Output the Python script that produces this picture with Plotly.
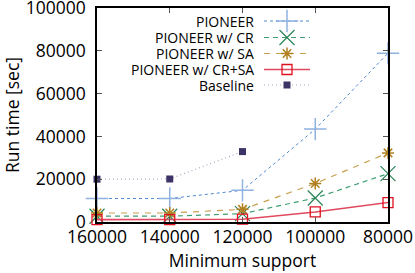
import plotly.graph_objects as go

# ---- data ----
min_support = [160000, 140000, 120000, 100000, 80000]
pioneer = [11000, 11000, 14800, 43400, 78900]
pioneer_cr = [2700, 2700, 3900, 11200, 22600]
pioneer_sa = [4200, 4200, 5900, 18000, 32300]
pioneer_crsa = [1100, 1100, 1300, 4700, 9100]
baseline_support = [160000, 140000, 120000]
baseline = [20000, 20100, 32900]

series_names = ["PIONEER", "PIONEER w/ CR", "PIONEER w/ SA", "PIONEER w/ CR+SA", "Baseline"]
x_ticks = [160000, 140000, 120000, 100000, 80000]
y_ticks = [0, 20000, 40000, 60000, 80000, 100000]

FONT = "Open Sans"
W, H = 415, 273
ML, MR, MT, MB = 97, 27, 8, 51

styles = [
    dict(line=dict(color="#4f88d2", width=1, dash="3px,3px"),
         marker=dict(symbol="cross-thin", size=16, line=dict(color="#8fb2df", width=1.5))),
    dict(line=dict(color="#3f9c70", width=1.2, dash="5px,4px"),
         marker=dict(symbol="x-thin", size=15, line=dict(color="#2a8558", width=1.2))),
    dict(line=dict(color="#c7a050", width=1.2, dash="6px,6px"),
         marker=dict(symbol="asterisk", size=10, line=dict(color="#b08020", width=1.5))),
    dict(line=dict(color="#e04a5e", width=1.6),
         marker=dict(symbol="square-open", size=10, color="#e01020", line=dict(width=1.3))),
    dict(line=dict(color="#a8a6c4", width=1.2, dash="1px,3px"),
         marker=dict(symbol="square", size=7, color="#3d3367", line=dict(width=0))),
]
data_x = [min_support] * 4 + [baseline_support]
data_y = [pioneer, pioneer_cr, pioneer_sa, pioneer_crsa, baseline]

fig = go.Figure()
for name, xs, ys, st in zip(series_names, data_x, data_y, styles):
    fig.add_trace(go.Scatter(x=xs, y=ys, mode="lines+markers", name=name,
                             line=st["line"], marker=st["marker"], showlegend=False,
                             cliponaxis=False))

# ---- custom legend (text right-aligned, sample on the right), in pixel-like overlay axes ----
pw = W - ML - MR
ph = H - MT - MB
leg_line_x0, leg_line_x1 = 264 - ML, 310 - ML
leg_rows = [21, 37.5, 53.5, 69.5, 85]
text_right = 256 - ML
for name, st, ry in zip(series_names, styles, leg_rows):
    yy = ph - (ry - MT)
    fig.add_trace(go.Scatter(x=[leg_line_x0, leg_line_x1], y=[yy, yy], mode="lines",
                             line=st["line"], xaxis="x2", yaxis="y2", showlegend=False,
                             hoverinfo="skip"))
    fig.add_trace(go.Scatter(x=[(leg_line_x0 + leg_line_x1) / 2], y=[yy], mode="markers",
                             marker=st["marker"], xaxis="x2", yaxis="y2", showlegend=False,
                             hoverinfo="skip"))
    fig.add_annotation(x=text_right, y=yy, xref="x2", yref="y2", text=name,
                       showarrow=False, xanchor="right", yanchor="middle",
                       font=dict(family=FONT, size=14, color="black"))

axis_common = dict(showgrid=False, zeroline=False, showline=True, linecolor="black",
                   linewidth=1.5, ticks="inside", ticklen=5, tickcolor="#555555",
                   mirror="allticks", automargin=False, ticklabeloverflow="allow",
                   tickfont=dict(family=FONT, size=17.5, color="black"))

fig.update_layout(
    width=W, height=H,
    margin=dict(l=ML, r=MR, t=MT, b=MB, autoexpand=False),
    paper_bgcolor="white", plot_bgcolor="white",
    xaxis=dict(range=[160000, 80000], tickvals=x_ticks, tickformat="d",
               title=dict(text="Minimum support", font=dict(family=FONT, size=17.5, color="black"),
                          standoff=0),
               ticklabelstandoff=-2, **axis_common),
    yaxis=dict(range=[0, 100000], tickvals=y_ticks, tickformat="d",
               title=dict(text="Run time [sec]", font=dict(family=FONT, size=17.5, color="black"),
                          standoff=8),
               ticklabelstandoff=6, **axis_common),
    xaxis2=dict(overlaying="x", range=[0, pw], visible=False, fixedrange=True),
    yaxis2=dict(overlaying="y", range=[0, ph], visible=False, fixedrange=True),
    showlegend=False,
)

fig.write_html("out.html", config={"displayModeBar": False},
               post_script="document.body.style.margin='0';")
